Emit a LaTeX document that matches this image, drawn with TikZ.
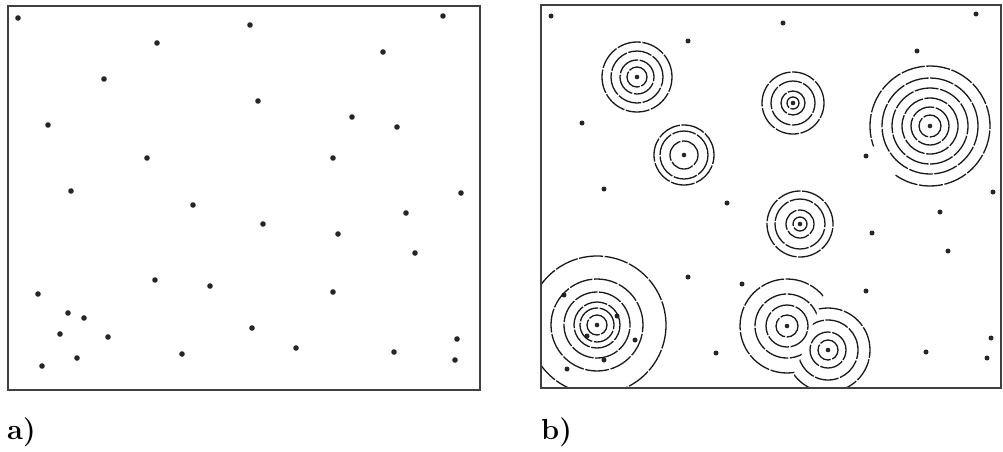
\documentclass[tikz,border=0pt]{standalone}
\begin{document}
\begin{tikzpicture}[x=1pt,y=-1pt]
\tikzset{
  dotA/.style={fill=black!85},
  dotB/.style={fill=black!85},
  ring/.style={draw=black!90, line width=1.3pt, dash pattern=on 24pt off 1.6pt},
  frame/.style={draw=black!75, line width=1.7pt},
  lbl/.style={anchor=base west, inner sep=0pt, font=\fontsize{29}{29}\selectfont\bfseries}
}
\useasboundingbox (0,0) rectangle (1003,451);
\fill[white] (0,0) rectangle (1003,451);

% ---------- panel a ----------
\foreach \x/\y in {18/18,157/43,250/25,443/16,104/79,383/52,258/101,48/125,352/117,397/127,
  147/158,333/158,71/191,461/193,193/205,406/213,263/224,338/234,415/253,38/294,155/280,
  210/286,333/292,68/313,84/318,60/334,108/337,252/328,77/358,182/354,42/366,296/348,
  394/352,457/339,455/360}
  \fill[dotA] (\x,\y) circle (2.8pt);
\draw[frame] (8,6) rectangle (480,390);
\node[lbl] (la) at (7,439) {a)};

% ---------- panel b ----------
\begin{scope}
\clip (541,5) rectangle (1001,388);
% isolated points
\foreach \x/\y in {551/16,688/41,582/123,604/189,783/23,976/14,917/51,866/156,993/192,
  727/203,688/277,742/284,716/353,940/212,872/233,948/251,866/291,926/352,991/338,987/358,
  564/295,617/316,635/340,587/336,604/360,567/369}
  \fill[dotB] (\x,\y) circle (2.5pt);
% cluster centres
\foreach \x/\y in {637/77,684/155,793/103,930/126,800/224,597/325,787/326,828/350}
  \fill[dotB] (\x,\y) circle (2.3pt);
% cluster 1
\foreach \r in {10,17,26,35} \draw[ring] (637,77) circle (\r pt);
% cluster 2
\foreach \r in {14,24,30} \draw[ring] (684,155) circle (\r pt);
% cluster 3
\foreach \r in {6,12,22,31} \draw[ring] (793,103) circle (\r pt);
% cluster 4 (large, upper right)
\foreach \r in {11,19,28,38,48} \draw[ring] (930,126) circle (\r pt);
\draw[ring] (930,126) ++(235:60pt) arc[start angle=235, end angle=560, radius=60pt];
% cluster 5
\foreach \r in {7,14,25,33} \draw[ring] (800,224) circle (\r pt);
% cluster 6 (large, lower left)
\foreach \r in {10,17,23,33,46,69} \draw[ring] (597,325) circle (\r pt);
% cluster 7 (lower middle), cut by cluster 8
\begin{scope}
\clip (700,250) -- (840,250) -- (785,400) -- (700,400) -- cycle;
\foreach \r in {11,21,32,47} \draw[ring] (787,326) circle (\r pt);
\end{scope}
% cluster 8
\begin{scope}
\clip (840,250) -- (920,250) -- (920,400) -- (785,400) -- cycle;
\foreach \r in {10,18,30,42} \draw[ring] (828,350) circle (\r pt);
\end{scope}
\end{scope}
\draw[frame] (541,5) rectangle (1001,388);
\node[lbl] (lb) at (541,439) {b)};
\end{tikzpicture}
\end{document}
